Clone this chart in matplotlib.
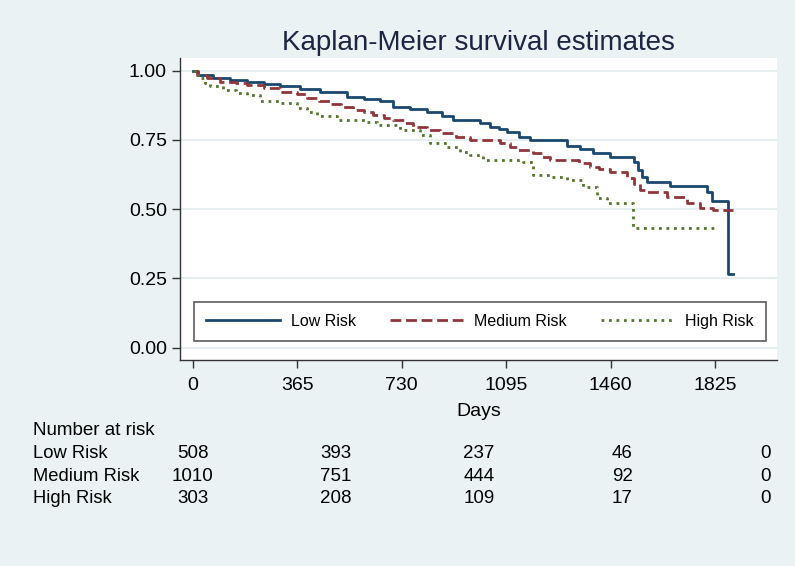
import numpy as np
import matplotlib
matplotlib.use('Agg')
import matplotlib.pyplot as plt
from matplotlib.transforms import blended_transform_factory

plt.rcParams['font.family'] = ['Liberation Sans', 'DejaVu Sans']

# ============ data ============
low_t = [0, 20, 71, 130, 189, 250, 305, 375, 445, 538, 600, 654, 700, 760, 817, 870,
         910, 1004, 1039, 1070, 1097, 1140, 1178, 1306, 1353, 1400, 1458, 1540, 1555,
         1570, 1586, 1667, 1798, 1813, 1869, 1886]
low_s = [1.0, 0.985, 0.972, 0.966, 0.960, 0.952, 0.945, 0.933, 0.924, 0.906, 0.898,
         0.892, 0.870, 0.862, 0.852, 0.835, 0.822, 0.812, 0.798, 0.790, 0.780, 0.762,
         0.750, 0.728, 0.716, 0.702, 0.690, 0.671, 0.642, 0.617, 0.597, 0.585, 0.561,
         0.531, 0.266, 0.266]

med_t = [0, 15, 50, 96, 150, 189, 250, 305, 364, 399, 440, 480, 520, 561, 600, 631,
         670, 701, 740, 771, 820, 864, 920, 969, 1073, 1110, 1132, 1190, 1220, 1248,
         1350, 1388, 1420, 1458, 1516, 1540, 1563, 1586, 1656, 1726, 1772, 1817, 1886]
med_s = [1.0, 0.985, 0.972, 0.960, 0.955, 0.948, 0.936, 0.924, 0.915, 0.900, 0.890,
         0.879, 0.868, 0.858, 0.850, 0.840, 0.830, 0.822, 0.810, 0.798, 0.786, 0.774,
         0.762, 0.750, 0.738, 0.726, 0.714, 0.702, 0.690, 0.678, 0.665, 0.653, 0.645,
         0.635, 0.612, 0.590, 0.569, 0.563, 0.545, 0.521, 0.505, 0.495, 0.495]

high_t = [0, 10, 26, 45, 61, 106, 150, 189, 235, 305, 364, 399, 434, 503, 608, 643,
          724, 794, 829, 888, 934, 970, 1015, 1155, 1190, 1248, 1306, 1364, 1411, 1446,
          1539, 1836]
high_s = [1.0, 0.985, 0.972, 0.955, 0.945, 0.930, 0.920, 0.912, 0.892, 0.882, 0.864,
          0.852, 0.836, 0.822, 0.816, 0.804, 0.786, 0.768, 0.738, 0.726, 0.708, 0.696,
          0.678, 0.671, 0.624, 0.617, 0.605, 0.581, 0.539, 0.521, 0.431, 0.431]

groups = ['Low Risk', 'Medium Risk', 'High Risk']
risk_times = [0, 500, 1000, 1500, 2000]
risk_low = [508, 393, 237, 46, 0]
risk_med = [1010, 751, 444, 92, 0]
risk_high = [303, 208, 109, 17, 0]

xticks = [0, 365, 730, 1095, 1460, 1825]
yticks = [0.0, 0.25, 0.5, 0.75, 1.0]

# ============ figure ============
bg = '#eaf2f3'
fig = plt.figure(figsize=(7.95, 5.66), dpi=100, facecolor=bg)
ax = fig.add_axes([0.2264, 0.364, 0.751, 0.5336])
ax.set_facecolor('white')

ax.step(low_t, low_s, where='post', color='#1a476f', lw=2.0, label=groups[0])
ax.step(med_t, med_s, where='post', color='#90353b', lw=2.0,
        linestyle=(0, (3.9, 1.7)), label=groups[1])
ax.step(high_t, high_s, where='post', color='#55752f', lw=2.0,
        linestyle=(0, (1, 1.7)), label=groups[2])

ax.set_xlim(-44, 2041)
ax.set_ylim(-0.045, 1.046)
ax.set_xticks(xticks)
ax.set_yticks(yticks)
ax.set_yticklabels([f'{v:.2f}' for v in yticks])
ax.grid(True, axis='y', color='#e6eef0', lw=1.5)
ax.set_axisbelow(True)
for s in ['top', 'right']:
    ax.spines[s].set_visible(False)
for s in ['left', 'bottom']:
    ax.spines[s].set_color('#333333')
    ax.spines[s].set_linewidth(1.0)
ax.tick_params(axis='both', labelsize=14, length=6, width=1, color='#333333')
ax.tick_params(axis='y', pad=3.5)
ax.tick_params(axis='x', pad=6)
ax.set_xlabel('Days', fontsize=14, labelpad=7)
ax.set_title('Kaplan-Meier survival estimates', fontsize=20, color='#1c2541', pad=6)

leg = ax.legend(loc='lower left', bbox_to_anchor=(0.0243, 0.063, 0.957, 0.146),
                mode='expand', ncol=3, borderaxespad=0, fontsize=11.5,
                handlelength=4.6, handletextpad=0.7, borderpad=0.75,
                fancybox=False, frameon=True)
leg.get_frame().set_edgecolor('#333333')
leg.get_frame().set_linewidth(1.2)

# ============ number at risk table ============
tr = blended_transform_factory(ax.transData, fig.transFigure)
fig.text(0.0415, 0.240, 'Number at risk', fontsize=13.5, va='center')
row_y = [0.1996, 0.159, 0.120]
for name, vals, y in zip(groups, [risk_low, risk_med, risk_high], row_y):
    fig.text(0.0415, y, name, fontsize=13.2, va='center')
    for t, v in zip(risk_times, vals):
        ax.text(t, y, str(v), transform=tr, fontsize=13.5, ha='center', va='center',
                clip_on=False)

fig.savefig('out.png', dpi=100, facecolor=bg)
